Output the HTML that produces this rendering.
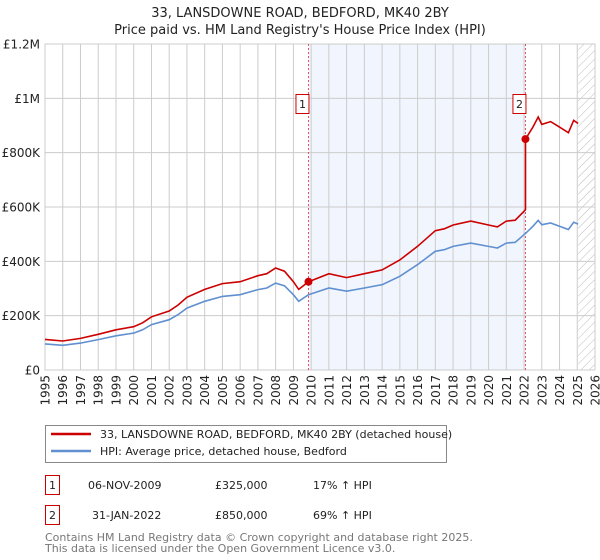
<!DOCTYPE html>
<html><head><meta charset="utf-8"><style>
body{margin:0;background:#fff;font-family:"Liberation Sans","DejaVu Sans",sans-serif;}
svg{display:block}
text{font-family:"DejaVu Sans","Liberation Sans",sans-serif;}
</style></head><body>
<svg id="c" width="600" height="560" viewBox="0 0 600 560">
<defs><pattern id="hatch" width="6" height="6" patternUnits="userSpaceOnUse" patternTransform="rotate(45)"><line x1="0" y1="0" x2="0" y2="6" stroke="#bbb" stroke-width="1"/></pattern></defs>
<text x="300" y="17" text-anchor="middle" font-size="13" fill="#222">33, LANSDOWNE ROAD, BEDFORD, MK40 2BY</text>
<text x="300" y="34" text-anchor="middle" font-size="13" fill="#222">Price paid vs. HM Land Registry's House Price Index (HPI)</text>
<g id="plot"></g>
<g>
<rect x="45.5" y="425.5" width="401" height="37" fill="#fff" stroke="#888"/>
<line x1="51" y1="434" x2="91" y2="434" stroke="#cc0000" stroke-width="2.5"/>
<text x="100" y="438" font-size="11" fill="#222">33, LANSDOWNE ROAD, BEDFORD, MK40 2BY (detached house)</text>
<line x1="51" y1="451" x2="91" y2="451" stroke="#6090d0" stroke-width="2.5"/>
<text x="100" y="455" font-size="11" fill="#222">HPI: Average price, detached house, Bedford</text>
</g>
<g font-size="11" fill="#222">
<rect x="45.5" y="475.5" width="14" height="19" fill="#fff" stroke="#cc0000"/>
<text x="52.5" y="489" text-anchor="middle">1</text>
<text x="88" y="489">06-NOV-2009</text><text x="215" y="489">£325,000</text><text x="313" y="489">17% ↑ HPI</text>
<rect x="45.5" y="505.5" width="14" height="19" fill="#fff" stroke="#cc0000"/>
<text x="52.5" y="519" text-anchor="middle">2</text>
<text x="92" y="519">31-JAN-2022</text><text x="215" y="519">£850,000</text><text x="313" y="519">69% ↑ HPI</text>
</g>
<text x="45" y="541" font-size="11" fill="#777">Contains HM Land Registry data © Crown copyright and database right 2025.</text>
<text x="45" y="552" font-size="11" fill="#777">This data is licensed under the Open Government Licence v3.0.</text>
</svg>
<script>
const hpiYears=[1995,1996,1997,1998,1999,2000,2000.5,2001,2002,2002.5,2003,2004,2005,2006,2007,2007.5,2008,2008.5,2009,2009.3,2009.85,2010,2011,2012,2013,2014,2015,2016,2017,2017.5,2018,2019,2020,2020.5,2021,2021.5,2022,2022.08,2022.5,2022.8,2023,2023.5,2024,2024.5,2024.8,2025.05];
const hpiValues=[96,91,99,112,126,136,148,167,185,204,228,253,271,277,296,302,320,310,277,253,277,280,302,290,302,314,345,388,437,443,455,467,455,449,467,470,498,503,529,551,535,541,529,517,544,537];
const saleYears=[2009.85,2022.08];
const salePrices=[325,850];
const saleLabels=["1","2"];
const yTicks=[0,200,400,600,800,1000,1200];
const yTickLabels=["£0","£200K","£400K","£600K","£800K","£1M","£1.2M"];
const xTicks=[1995,1996,1997,1998,1999,2000,2001,2002,2003,2004,2005,2006,2007,2008,2009,2010,2011,2012,2013,2014,2015,2016,2017,2018,2019,2020,2021,2022,2023,2024,2025,2026];

const L=45,R=595,T=44,B=370,X0=1995,X1=2026,YMAX=1200;
const sx=t=>L+(t-X0)/(X1-X0)*(R-L);
const sy=v=>B-v/YMAX*(B-T);
const NS="http://www.w3.org/2000/svg";
const g=document.getElementById('plot');
function mk(tag,attrs,parent){const e=document.createElementNS(NS,tag);for(const k in attrs)e.setAttribute(k,attrs[k]);(parent||g).appendChild(e);return e;}

const shade=mk('rect',{x:sx(saleYears[0]),y:T,width:sx(saleYears[1])-sx(saleYears[0]),height:B-T,fill:'#eef3fc',opacity:0.8});


const hx=sx(2025.05);
const hat=mk('rect',{x:hx,y:T,width:R-hx,height:B-T,fill:'url(#hatch)'});



xTicks.forEach(t=>{const l=mk('line',{x1:sx(t),x2:sx(t),y1:T,y2:B,stroke:'#cccccc','stroke-width':1});


const tx=mk('text',{x:0,y:0,'font-size':12,fill:'#222','text-anchor':'end',transform:`translate(${sx(t)+4.5},${B+5}) rotate(-90)`});tx.textContent=t;

});
yTicks.forEach((v,i)=>{const l=mk('line',{x1:L,x2:R,y1:sy(v),y2:sy(v),stroke:'#cccccc','stroke-width':1});


const tx=mk('text',{x:L-5,y:sy(v)+4.5,'font-size':12,fill:'#222','text-anchor':'end'});tx.textContent=yTickLabels[i];

});
const bd=mk('rect',{x:L,y:T,width:R-L,height:B-T,fill:'none',stroke:'#cccccc'});



function hpiAt(t){for(let i=0;i<hpiYears.length-1;i++){if(t>=hpiYears[i]&&t<=hpiYears[i+1]){const f=(t-hpiYears[i])/(hpiYears[i+1]-hpiYears[i]);return hpiValues[i]+f*(hpiValues[i+1]-hpiValues[i]);}}return hpiValues[hpiValues.length-1];}

saleYears.forEach((s,i)=>{const l=mk('line',{x1:sx(s),x2:sx(s),y1:T,y2:B,stroke:'#e05060','stroke-width':1,'stroke-dasharray':'2,2'});

});

const hp=hpiYears.map((t,i)=>sx(t).toFixed(1)+','+sy(hpiValues[i]).toFixed(1)).join(' ');
const hl=mk('polyline',{points:hp,fill:'none',stroke:'#6090d0','stroke-width':1.6});



const r1=salePrices[0]/hpiAt(saleYears[0]),r2=salePrices[1]/hpiAt(saleYears[1]);
const pts=[];
hpiYears.forEach((t,i)=>{if(t<saleYears[1])pts.push([t,hpiValues[i]*r1]);});
pts.push([saleYears[1],hpiAt(saleYears[1])*r1]);
pts.push([saleYears[1],salePrices[1]]);
hpiYears.forEach((t,i)=>{if(t>saleYears[1])pts.push([t,hpiValues[i]*r2]);});
const pl=mk('polyline',{points:pts.map(p=>sx(p[0]).toFixed(1)+','+sy(p[1]).toFixed(1)).join(' '),fill:'none',stroke:'#cc0000','stroke-width':1.6});



saleYears.forEach((s,i)=>{const c=mk('circle',{cx:sx(s),cy:sy(salePrices[i]),r:4,fill:'#cc0000'});


const bx=mk('rect',{x:sx(s)-12.5,y:94.5,width:13,height:19,fill:'#fff',stroke:'#cc0000'});


const tx=mk('text',{x:sx(s)-6,y:108,'font-size':11,fill:'#222','text-anchor':'middle'});tx.textContent=saleLabels[i];

});
</script>
</body></html>
